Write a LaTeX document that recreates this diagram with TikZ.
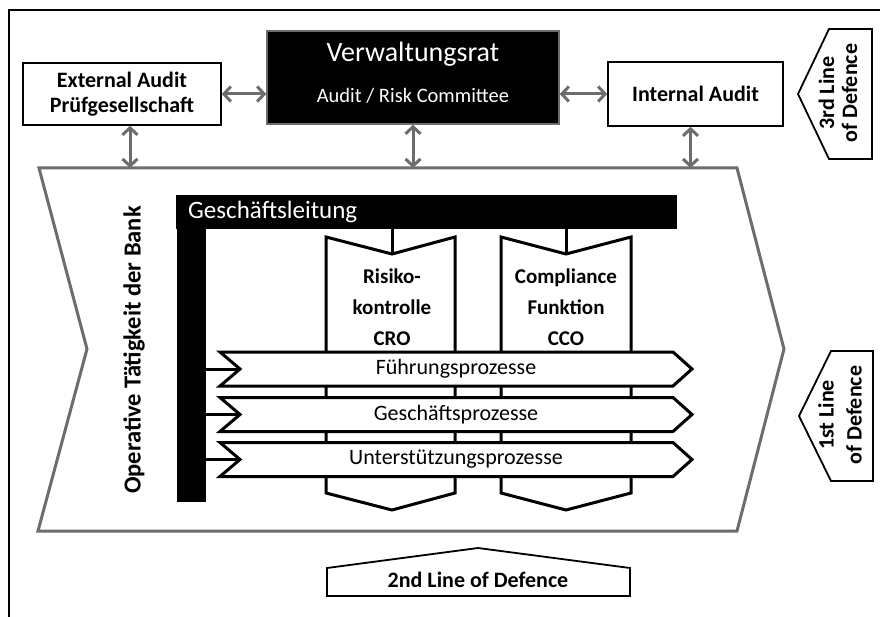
\documentclass[tikz,border=0pt]{standalone}
\usepackage{fontspec}
\setmainfont{Carlito}
\usetikzlibrary{arrows.meta}
\definecolor{linegray}{HTML}{6D6D6D}

\begin{document}
\begin{tikzpicture}[x=1pt, y=-1pt,
    box/.style={draw=black, line width=1.6pt, fill=white, align=center,
      font=\fontsize{22}{25}\selectfont\bfseries},
    twoway/.style={{Straight Barb[length=7pt,width=15pt]}-{Straight Barb[length=7pt,width=15pt]},
      draw=linegray, line width=3pt},
    chevron/.style={draw=linegray, line width=3pt, line join=miter},
    tag/.style={draw=black, line width=1.8pt, fill=white, line join=miter},
    unit/.style={draw=black, line width=3pt, fill=white, line join=miter},
    link/.style={draw=black, line width=3pt},
    bar/.style={fill=black, inner sep=0pt, anchor=north west}]
    \useasboundingbox (0,0) rectangle (880,617);

    % frame
    \draw[line width=2pt] (9,617) -- (9,10) -- (880,10);

    % board and audit
    \node[box, minimum width=198pt, minimum height=62pt] (ext) at (122,94) {External Audit\\Prüfgesellschaft};
    \node[draw=linegray, line width=1.5pt, fill=black, minimum width=292pt, minimum height=93pt] (vr) at (413,77.5) {};
    \node[white, font=\fontsize{28}{32}\selectfont] (vr-title) at (413,54) {Verwaltungsrat};
    \node[white, font=\fontsize{20.5}{24}\selectfont] (vr-sub) at (413,96) {Audit / Risk Committee};
    \node[box, minimum width=175pt, minimum height=64pt] (ia) at (695.5,94) {Internal Audit};

    % operative chevron
    \coordinate (op-nw) at (39,168);
    \coordinate (op-ne) at (737,168);
    \coordinate (op-tip) at (784,349);
    \coordinate (op-se) at (737,531);
    \coordinate (op-sw) at (38,531);
    \coordinate (op-notch) at (87,349);
    \draw[chevron] (op-nw) -- (op-ne) -- (op-tip) -- (op-se) -- (op-sw) -- (op-notch) -- cycle;
    \node[rotate=90, font=\fontsize{24.5}{28}\selectfont\bfseries] (op) at (134,350) {Operative Tätigkeit der Bank};

    \draw[twoway] (ext.east) -- (ext.east -| vr.west);
    \draw[twoway] (ia.west -| vr.east) -- (ia.west);
    \draw[twoway] ([xshift=8pt]ext.south) -- ([xshift=8pt]ext.south |- op-nw);
    \draw[twoway] (vr.south) -- (vr.south |- op-nw);
    \draw[twoway] ([xshift=-5pt]ia.south) -- ([xshift=-5pt]ia.south |- op-nw);

    % lines of defence
    \draw[tag] (872,29) -- (829,29) -- (798,94) -- (829,159) -- (872,159) -- cycle;
    \node[rotate=90, align=center, font=\fontsize{22}{23}\selectfont\bfseries] (third) at (838,93) {3rd Line\\of Defence};
    \draw[tag] (873,351) -- (831,351) -- (799,416) -- (831,481) -- (873,481) -- cycle;
    \node[rotate=90, align=center, font=\fontsize{22}{28}\selectfont\bfseries] (first) at (840,415) {1st Line\\of Defence};
    \draw[tag] (327,596) -- (327,568) -- (478,548) -- (630,568) -- (630,596) -- cycle;
    \node[font=\fontsize{22}{25}\selectfont\bfseries] (second) at (478,580) {2nd Line of Defence};

    % management
    \node[bar, minimum width=29pt, minimum height=306pt] (glv) at (177,196) {};
    \node[bar, minimum width=501pt, minimum height=34pt, text width=477pt, inner xsep=12pt, align=left,
      text=white, font=\fontsize{25}{30}\selectfont] (gl) at (176,195) {Geschäftsleitung};

    % control functions
    \draw[unit] (326,237) -- (392,254) coordinate (cro-top) -- (455,237) -- (455,493) -- (392,510) -- (326,493) -- cycle;
    \node[align=center, font=\fontsize{21}{31}\selectfont\bfseries] (cro) at (392,307) {Risiko-\\kontrolle\\CRO};
    \draw[link] (cro-top) -- (cro-top |- gl.south);
    \draw[unit] (501,237) -- (566,254) coordinate (cco-top) -- (631,237) -- (631,493) -- (566,510) -- (501,493) -- cycle;
    \node[align=center, font=\fontsize{21}{31}\selectfont\bfseries] (cco) at (566,307) {Compliance\\Funktion\\CCO};
    \draw[link] (cco-top) -- (cco-top |- gl.south);

    % processes
    \foreach \yc/\nm/\txt in {369/fp/Führungsprozesse, 414.5/gp/Geschäftsprozesse, 459.5/up/Unterstützungsprozesse} {
      \draw[unit] (220,\yc-17) -- (673,\yc-17) -- (692,\yc) -- (673,\yc+17) -- (220,\yc+17) -- (240,\yc) coordinate (\nm-in) -- cycle;
      \node[font=\fontsize{22}{25}\selectfont] (\nm) at (456,\yc) {\txt};
      \draw[link] (glv.east |- \nm-in) -- (\nm-in);
    }
\end{tikzpicture}
\end{document}
